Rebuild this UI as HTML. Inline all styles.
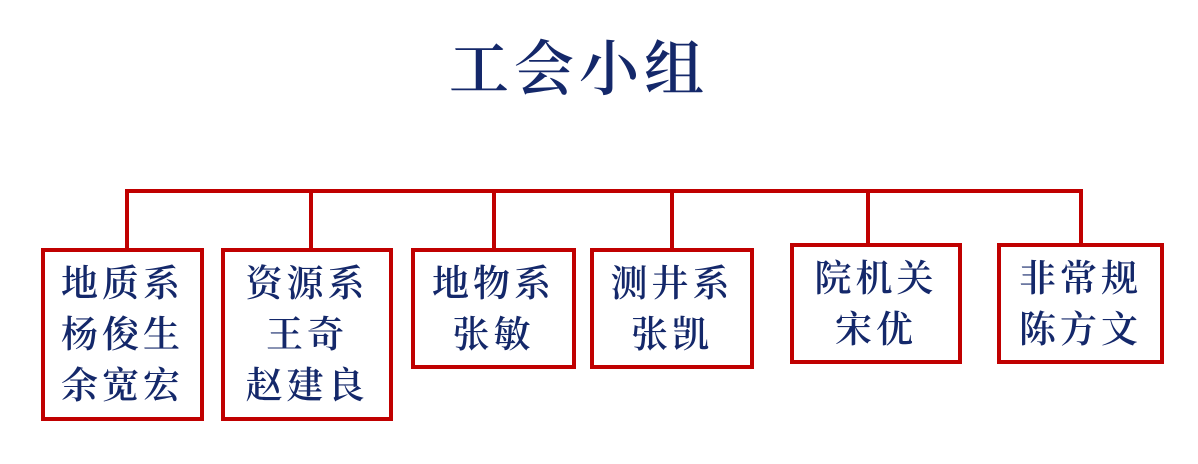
<!DOCTYPE html>
<html><head><meta charset="utf-8"><style>
body{margin:0;width:1198px;height:464px;background:#fff;position:relative;overflow:hidden;font-family:"Liberation Serif","Noto Serif CJK SC",serif;color:#14286a}
.t{position:absolute;left:0;width:1158px;top:30px;text-align:center;font-size:60px;font-weight:600;letter-spacing:5px;line-height:80px}
.l{position:absolute;background:#c00000}
.b{position:absolute;box-sizing:border-box;border:4px solid #c00000;text-align:center;font-size:37px;line-height:51px;padding-top:7px;letter-spacing:4px;font-weight:600}
</style></head><body>
<div class="t">工会小组</div>
<div class="l" style="left:125px;top:189px;width:958px;height:4px"></div>
<div class="l" style="left:125px;top:189px;width:4px;height:60px"></div>
<div class="l" style="left:309px;top:189px;width:4px;height:60px"></div>
<div class="l" style="left:492px;top:189px;width:4px;height:60px"></div>
<div class="l" style="left:670px;top:189px;width:4px;height:60px"></div>
<div class="l" style="left:866px;top:189px;width:4px;height:55px"></div>
<div class="l" style="left:1079px;top:189px;width:4px;height:55px"></div>
<div class="b" style="left:41px;top:248px;width:163px;height:173px">地质系<br>杨俊生<br>余宽宏</div>
<div class="b" style="left:221px;top:248px;width:172px;height:173px">资源系<br>王奇<br>赵建良</div>
<div class="b" style="left:411px;top:248px;width:165px;height:121px">地物系<br>张敏</div>
<div class="b" style="left:590px;top:248px;width:164px;height:121px">测井系<br>张凯</div>
<div class="b" style="left:790px;top:243px;width:172px;height:121px">院机关<br>宋优</div>
<div class="b" style="left:997px;top:243px;width:167px;height:121px">非常规<br>陈方文</div>
</body></html>
